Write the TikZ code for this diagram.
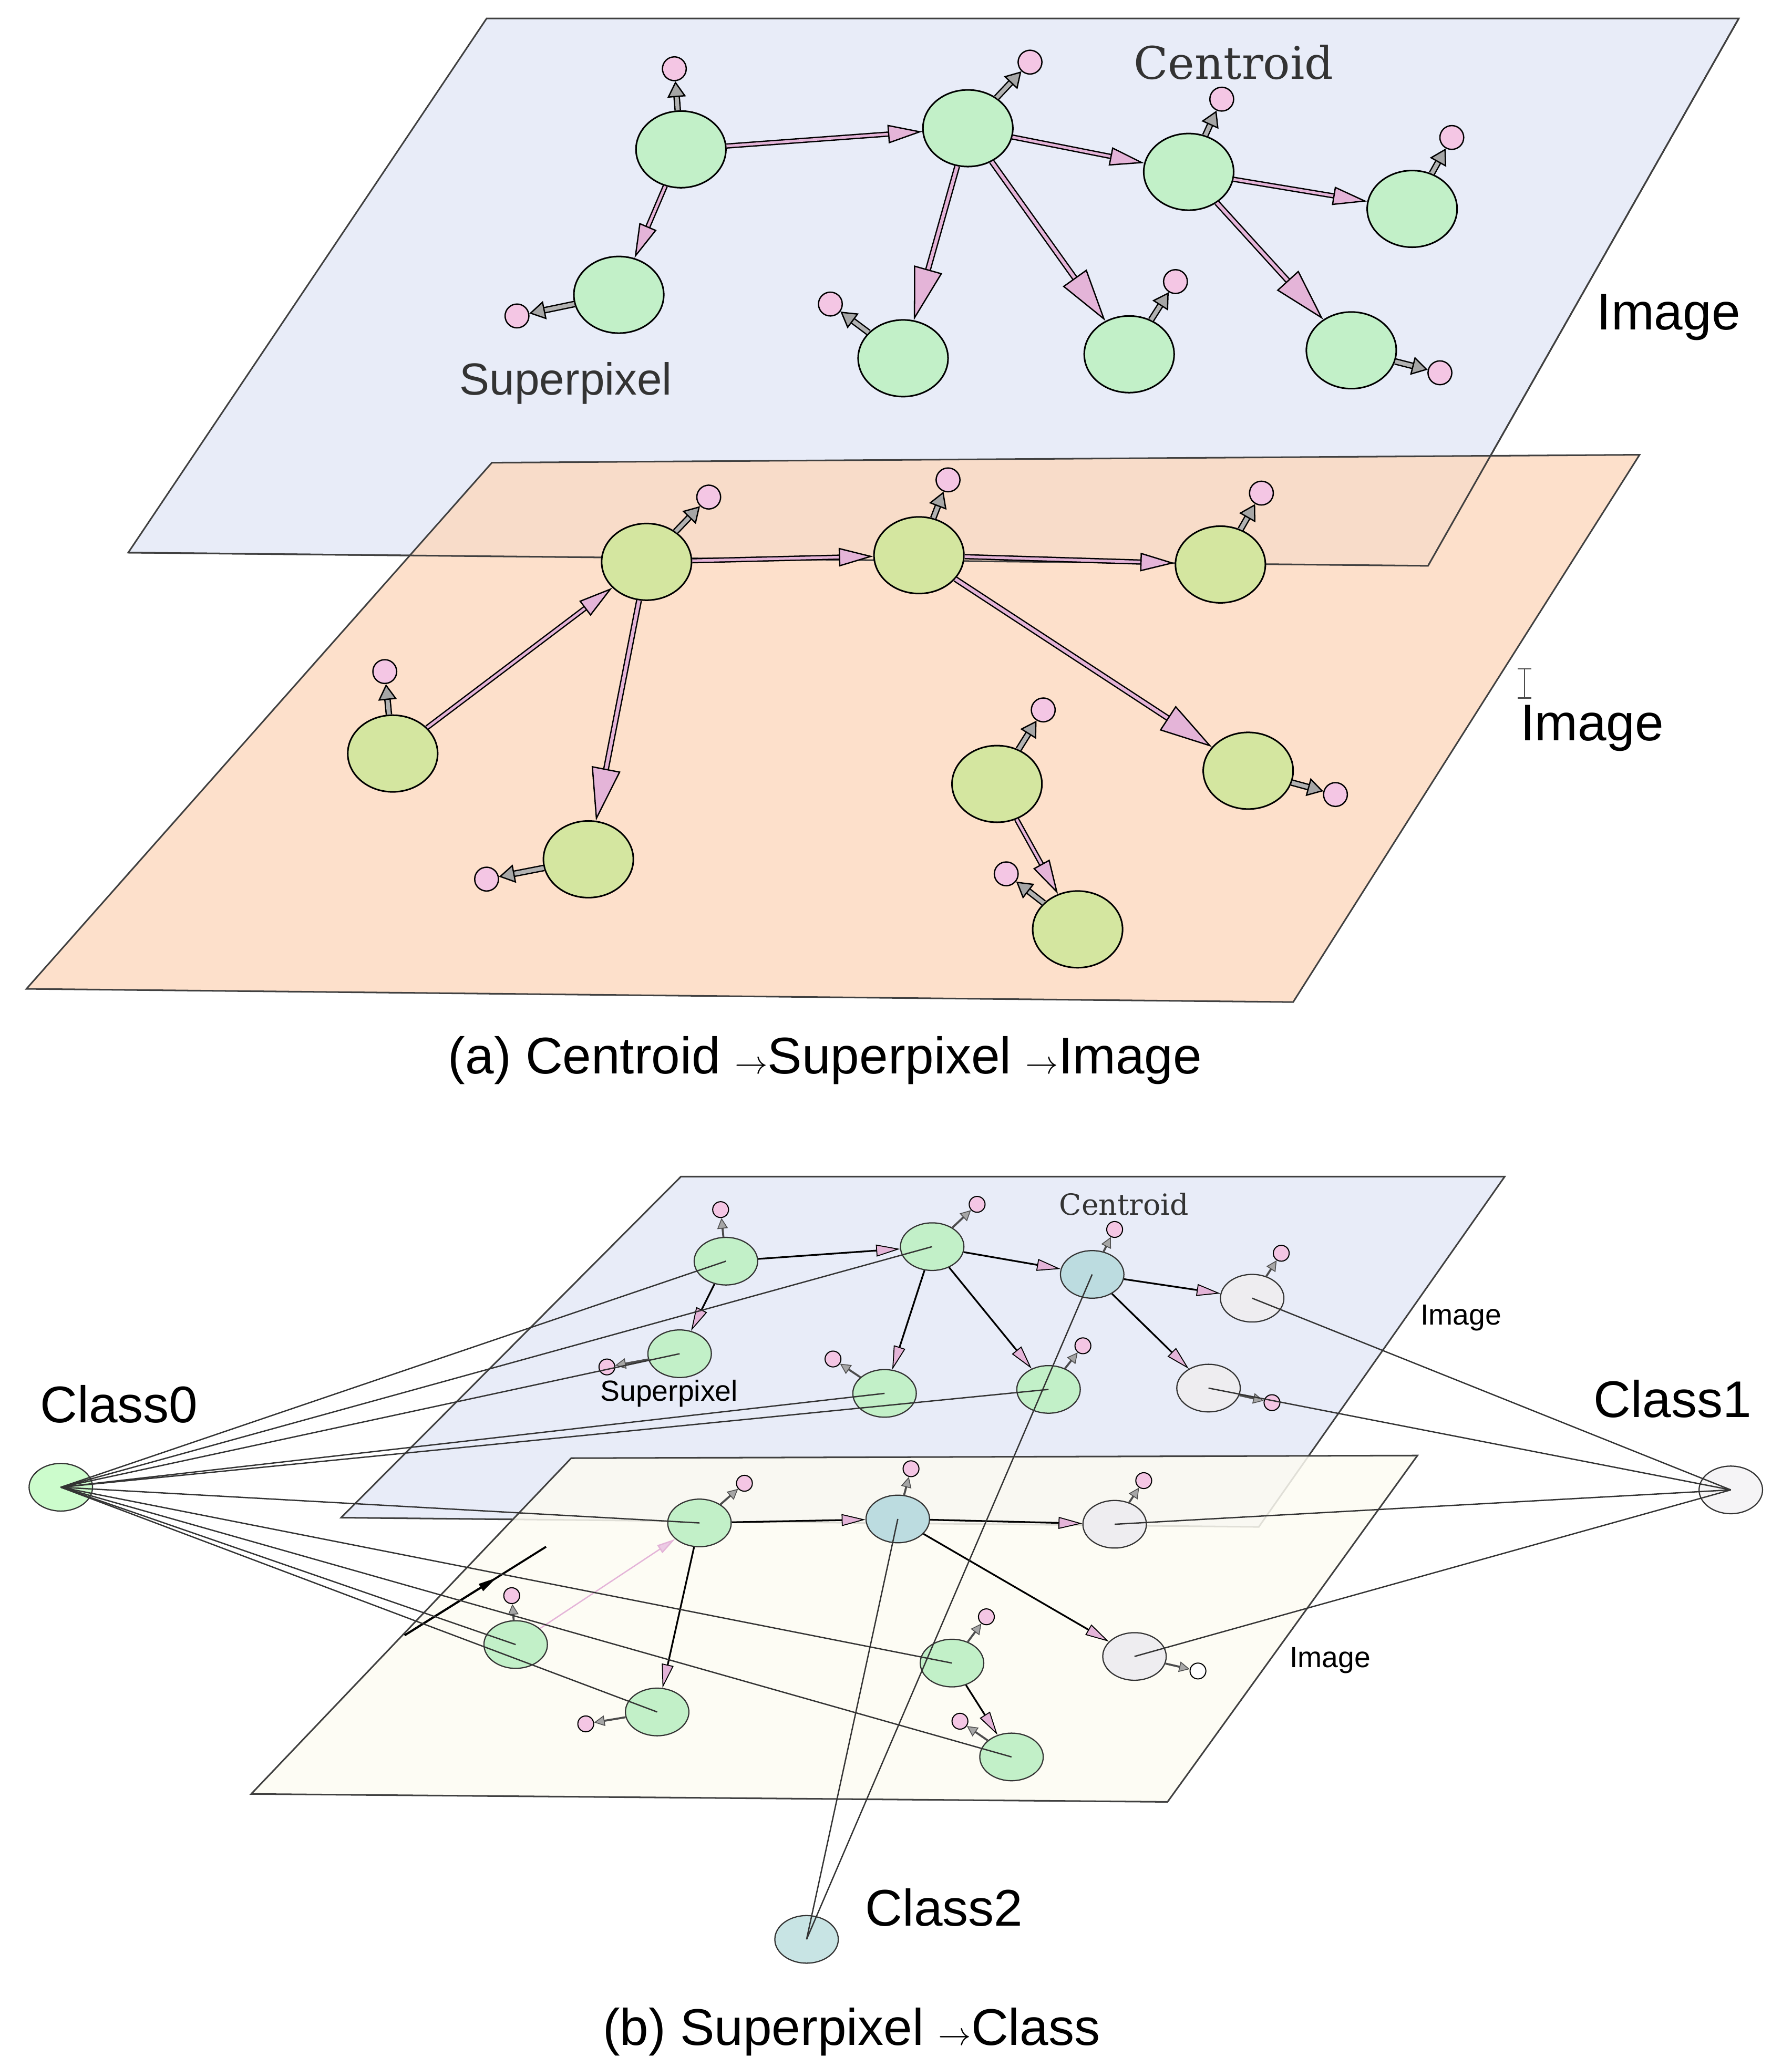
\documentclass[tikz,border=0pt]{standalone}
\usepackage{fontspec}
\setmainfont{Liberation Sans}
\newfontfamily\serc{DejaVu Serif}
\usetikzlibrary{shapes.geometric,arrows.meta,calc}
\definecolor{planeblue}{HTML}{E8ECF8}
\definecolor{planeor}{HTML}{FCD8BE}
\definecolor{planecr}{HTML}{FDFBF2}
\definecolor{sgreen}{HTML}{C2F0C8}
\definecolor{sygreen}{HTML}{D4E6A0}
\definecolor{cpink}{HTML}{F4C6E4}
\definecolor{apink}{HTML}{E4B4D8}
\definecolor{sblue}{HTML}{BCDCE0}
\definecolor{sgray}{HTML}{EEEDF0}
\definecolor{lgreen}{HTML}{CCFCCC}
\definecolor{cls2}{HTML}{C8E4E4}
\begin{document}
\begin{tikzpicture}[x=1pt,y=-1pt,
  plane/.style={draw=black!75,line width=1.2pt},
  sp/.style={ellipse,draw=black,line width=1.2pt,fill=sgreen,minimum width=68pt,minimum height=58pt,inner sep=0},
  spy/.style={sp,fill=sygreen},
  ss/.style={ellipse,draw=black!80,line width=0.9pt,fill=sgreen,minimum width=48pt,minimum height=36pt,inner sep=0},
  cen/.style={circle,draw=black,line width=1pt,fill=cpink,minimum size=18pt,inner sep=0},
  cens/.style={circle,draw=black,line width=0.8pt,fill=cpink,minimum size=12pt,inner sep=0},
  ed/.style={draw=black,line width=1pt,double=apink,double distance=2pt,-{Triangle[length=26pt,width=14pt,fill=apink]}},
  edb/.style={draw=black,line width=1pt,double=apink,double distance=2.5pt,-{Triangle[length=40pt,width=22pt,fill=apink]}},
  ca/.style={draw=black,line width=1pt,double=gray!60,double distance=3pt,-{Triangle[length=12pt,width=14pt,fill=gray!70]}},
  eds/.style={draw=black,line width=1.3pt,-{Triangle[length=18pt,width=9pt,fill=apink,line width=0.7pt]}},
  cas/.style={draw=black!70,line width=1.5pt,-{Triangle[length=8pt,width=8pt,fill=gray!70,line width=0.6pt]}},
  cl/.style={draw=black!80,line width=1pt},
  lab/.style={font=\fontsize{39}{40}\selectfont,text=black},
]
\useasboundingbox (0,0) rectangle (1355,1556);
% ---------- (a)
\draw[plane,fill=planeblue] (97,418) -- (368,14) -- (1315,14) -- (1080,428) -- cycle;
\draw[plane,fill=planeor,fill opacity=0.8] (20,748) -- (372,350) -- (1240,344) -- (978,758) -- cycle;
\draw[plane] (97,418) -- (1080,428) -- (1315,14);
\node[sp] (A) at (515,113) {}; \node[sp] (B) at (732,97) {};
\node[sp] (C) at (899,130) {}; \node[sp] (D) at (1068,158) {};
\node[sp] (E) at (468,223) {}; \node[sp] (F) at (683,271) {};
\node[sp] (G) at (854,268) {}; \node[sp] (H) at (1022,265) {};
\foreach \n/\x/\y in {A/510/52,B/779/47,C/924/75,D/1098/104,E/391/239,F/628/230,G/889/213,H/1089/282}
  {\node[cen] (c\n) at (\x,\y) {}; \draw[ca] (\n) -- (c\n);}
\draw[ed] (A) -- (B); \draw[ed] (B) -- (C); \draw[ed] (C) -- (D);
\draw[ed] (A) -- (E); \draw[edb] (B) -- (F); \draw[edb] (B) -- (G); \draw[edb] (C) -- (H);
\node[font=\serc\fontsize{34}{36}\selectfont,text=black!80] (tc) at (933,47) {Centroid};
\node[font=\fontsize{34}{36}\selectfont,text=black!80] (ts) at (428,290) {Superpixel};
\node[lab] (ti1) at (1262,240) {Image};
\node[spy] (P) at (489,425) {}; \node[spy] (Q) at (695,420) {};
\node[spy] (R) at (923,427) {}; \node[spy] (S) at (297,570) {};
\node[spy] (T) at (445,650) {}; \node[spy] (U) at (754,593) {};
\node[spy] (V) at (944,583) {}; \node[spy] (W) at (815,703) {};
\foreach \n/\x/\y in {P/536/376,Q/717/363,R/954/373,S/291/508,T/368/665,U/789/537,V/1010/601,W/761/661}
  {\node[cen] (c\n) at (\x,\y) {}; \draw[ca] (\n) -- (c\n);}
\draw[ed] (P) -- (Q); \draw[ed] (Q) -- (R); \draw[ed] (S) -- (P);
\draw[edb] (P) -- (T); \draw[edb] (Q) -- (V); \draw[ed] (U) -- (W);
\node[lab] (ti2) at (1204,551) {Image};
\draw[black!70,line width=1pt] (1148,506) -- (1158,506) (1153,506) -- (1153,528) (1148,528) -- (1158,528);
\node[lab] (capa) at (624,802) {(a) Centroid $\rightarrow$Superpixel $\rightarrow$Image};
% ---------- (b)
\draw[plane,fill=planeblue] (258,1148) -- (515,890) -- (1138,890) -- (952,1155) -- cycle;
\draw[plane,fill=planecr,fill opacity=0.85] (190,1357) -- (432,1103) -- (1072,1101) -- (883,1363) -- cycle;
\node[ss] (a) at (549,954) {}; \node[ss] (b) at (705,943) {};
\node[ss,fill=sblue] (c) at (826,964) {}; \node[ss,fill=sgray] (d) at (947,982) {};
\node[ss] (e) at (514,1024) {}; \node[ss] (f) at (669,1054) {};
\node[ss] (g) at (793,1051) {}; \node[ss,fill=sgray] (h) at (914,1050) {};
\foreach \n/\x/\y in {a/545/915,b/739/911,c/843/930,d/969/948,e/459/1034,f/630/1028,g/819/1018,h/962/1061}
  {\node[cens] (c\n) at (\x,\y) {}; \draw[cas] (\n) -- (c\n);}
\draw[eds] (a) -- (b); \draw[eds] (b) -- (c); \draw[eds] (c) -- (d);
\draw[eds] (a) -- (e); \draw[eds] (b) -- (f); \draw[eds] (b) -- (g); \draw[eds] (c) -- (h);
\node[font=\serc\fontsize{22}{24}\selectfont,text=black!80] (tc2) at (850,911) {Centroid};
\node[font=\fontsize{22}{24}\selectfont] (ts2) at (506,1054) {Superpixel};
\node[font=\fontsize{22}{24}\selectfont] (ti3) at (1105,997) {Image};
\node[ss] (p) at (529,1152) {}; \node[ss,fill=sblue] (q) at (679,1149) {};
\node[ss,fill=sgray] (r) at (843,1153) {}; \node[ss] (s) at (390,1244) {};
\node[ss] (t) at (497,1295) {}; \node[ss] (u) at (720,1258) {};
\node[ss,fill=sgray] (v) at (858,1253) {}; \node[ss] (w) at (765,1329) {};
\foreach \n/\x/\y in {p/563/1122,q/689/1111,r/865/1120,s/387/1207,t/443/1304,u/746/1223,w/726/1302}
  {\node[cens] (c\n) at (\x,\y) {}; \draw[cas] (\n) -- (c\n);}
\node[cens,fill=white] (cv) at (906,1264) {}; \draw[cas] (v) -- (cv);
\draw[eds] (p) -- (q); \draw[eds] (q) -- (r); \draw[eds] (p) -- (t);
\draw[eds] (q) -- (v); \draw[eds] (u) -- (w);
\draw[apink,line width=1pt,-{Triangle[length=14pt,width=7pt,fill=apink!70]}] (s) -- (p);
\coordinate (k1) at (306,1237); \coordinate (k2) at (413,1170);
\draw[black,line width=1.5pt] (k1) -- (k2);
\draw[black,line width=1.5pt,-{Triangle[length=14pt,width=6pt,fill=black]}] (k1) -- ($(k1)!0.65!(k2)$);
\node[font=\fontsize{22}{24}\selectfont] (ti4) at (1006,1256) {Image};
% classes
\node[ss,fill=lgreen] (k0) at (46,1125) {};
\node[ss,fill=sgray!60] (kk1) at (1309,1127) {};
\node[ss,fill=cls2] (kk2) at (610,1467) {};
\node[lab] (l0) at (90,1062) {Class0};
\node[lab] (l1) at (1265,1058) {Class1};
\node[lab] (l2) at (714,1443) {Class2};
\foreach \n in {a,b,e,f,g,p,s,t,u,w} \draw[cl] (k0.center) -- (\n.center);
\foreach \n in {d,h,r,v} \draw[cl] (kk1.center) -- (\n.center);
\foreach \n in {c,q} \draw[cl] (kk2.center) -- (\n.center);
\node[lab] (capb) at (644,1537) {(b) Superpixel $\rightarrow$Class};
\end{tikzpicture}
\end{document}
